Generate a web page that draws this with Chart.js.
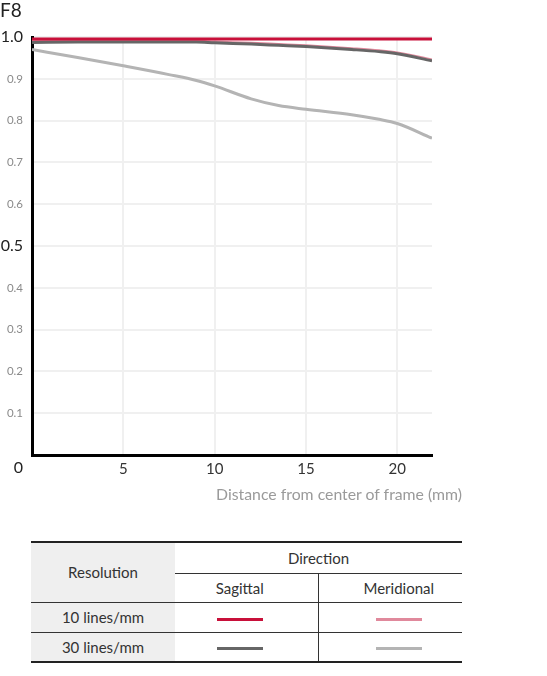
<!DOCTYPE html>
<html>
<head>
<meta charset="utf-8">
<script src="https://cdn.jsdelivr.net/npm/chart.js@4.4.1/dist/chart.umd.min.js"></script>
<style>
  body { margin: 0; background: #fff; font-family: Lato, "Open Sans", sans-serif; }
  #wrap { position: relative; width: 547px; height: 676px; }
  #grafico { position: absolute; left: 0; top: 0; }
  #titulo { position: absolute; left: 0; top: 0; font-size: 19px; color: #222; line-height: 20px; }
  #eixoX { position: absolute; right: 85px; top: 484px; font-size: 15.8px; color: #9a9a9a; }
  table { position: absolute; left: 31px; top: 541px; width: 431px; border-collapse: collapse; table-layout: fixed;
          font-size: 15px; color: #333; border-top: 2px solid #222; border-bottom: 2px solid #222; }
  td { text-align: center; padding: 0; }
  .res { background: #efefef; }
  .sw { display: inline-block; width: 46px; height: 3px; vertical-align: middle; }
</style>
</head>
<body>
<div id="wrap">
  <canvas id="grafico" width="547" height="510"></canvas>
  <div id="titulo">F8</div>
  <div id="eixoX">Distance from center of frame (mm)</div>
  <table>
    <colgroup><col style="width:144px"><col style="width:143px"><col style="width:144px"></colgroup>
    <tr style="height:31px">
      <td class="res" rowspan="2" style="border-bottom:1px solid #333">Resolution</td>
      <td colspan="2" style="border-bottom:1px solid #333">Direction</td>
    </tr>
    <tr style="height:29px; border-bottom:1px solid #333">
      <td style="border-right:1px solid #333; padding-right:13px">Sagittal</td>
      <td style="padding-left:17px">Meridional</td>
    </tr>
    <tr style="height:30px; border-bottom:1px solid #333">
      <td class="res">10 lines/mm</td>
      <td style="border-right:1px solid #333; padding-right:13px"><span class="sw" style="background:#c8103a"></span></td>
      <td style="padding-left:17px"><span class="sw" style="background:#e0899c"></span></td>
    </tr>
    <tr style="height:30px">
      <td class="res">30 lines/mm</td>
      <td style="border-right:1px solid #333; padding-right:13px"><span class="sw" style="background:#666"></span></td>
      <td style="padding-left:17px"><span class="sw" style="background:#b4b4b4"></span></td>
    </tr>
  </table>
</div>
<script>
// posições ao longo do quadro (mm)
const distancias = [0, 2.5, 5, 7.5, 9, 10, 12, 13.5, 15, 17.5, 19, 20, 21.9];

// valores MTF
const sagital10 = [0.995, 0.995, 0.995, 0.995, 0.995, 0.995, 0.995, 0.995, 0.995, 0.995, 0.995, 0.995, 0.995];
const meridional10 = [0.989, 0.990, 0.990, 0.990, 0.990, 0.988, 0.985, 0.982, 0.979, 0.972, 0.967, 0.962, 0.945];
const sagital30 = [0.987, 0.988, 0.988, 0.988, 0.988, 0.986, 0.983, 0.980, 0.977, 0.970, 0.965, 0.960, 0.943];
const meridional30 = [0.970, 0.951, 0.931, 0.910, 0.896, 0.883, 0.852, 0.836, 0.827, 0.814, 0.803, 0.793, 0.758];

const xTicks = [0, 5, 10, 15, 20];

function pontos(valores) {
  return distancias.map((d, i) => ({ x: d, y: valores[i] }));
}

function serie(label, valores, cor, ordem) {
  return {
    label: label,
    data: pontos(valores),
    borderColor: cor,
    borderWidth: 3,
    pointRadius: 0,
    cubicInterpolationMode: 'monotone',
    fill: false,
    order: ordem
  };
}

// ticks destacados no eixo y (0, 0.5 e 1.0)
function destaque(c) {
  if (!c || !c.tick) return -1;
  const v = Math.round(c.tick.value * 10);
  return (v === 0 || v === 5 || v === 10) ? v : -1;
}

const ctx = document.getElementById('grafico').getContext('2d');
const grafico = new Chart(ctx, {
  type: 'line',
  data: {
    datasets: [
      serie('10 lines/mm Sagittal', sagital10, '#c8103a', 1),
      serie('30 lines/mm Sagittal', sagital30, '#666666', 2),
      serie('10 lines/mm Meridional', meridional10, '#e0899c', 3),
      serie('30 lines/mm Meridional', meridional30, '#b4b4b4', 4)
    ]
  },
  options: {
    responsive: false,
    animation: false,
    layout: { padding: { top: 37, right: 115, left: 0, bottom: 0 } },
    plugins: { legend: { display: false }, tooltip: { enabled: false } },
    scales: {
      x: {
        type: 'linear',
        min: 0,
        max: 21.9,
        afterBuildTicks: s => { s.ticks = xTicks.map(v => ({ value: v })); },
        afterFit: s => { s.height = 55; },
        border: { color: '#000', width: 3 },
        grid: { color: '#f0f0f0', lineWidth: 2, drawTicks: false },
        ticks: {
          padding: 5,
          autoSkip: false,
          maxRotation: 0,
          color: '#333',
          font: { family: 'Lato', size: 15 },
          callback: v => (v === 0 ? '' : String(v))
        }
      },
      y: {
        min: 0,
        max: 1,
        afterBuildTicks: s => {
          const t = [];
          for (let i = 0; i <= 10; i++) t.push({ value: i / 10 });
          s.ticks = t;
        },
        afterFit: s => { s.width = 32; },
        border: { color: '#000', width: 3 },
        grid: { color: '#f0f0f0', lineWidth: 2, drawTicks: false },
        ticks: {
          padding: 9,
          autoSkip: false,
          color: c => (destaque(c) >= 0 ? '#222' : '#8a8a8a'),
          font: c => {
            const v = destaque(c);
            if (v === 0) return { family: 'Lato', size: 16, lineHeight: 1.55 };
            if (v > 0) return { family: 'Lato', size: 16 };
            return { family: 'Lato', size: 11.5 };
          },
          callback: v => {
            const n = Math.round(v * 10);
            if (n === 0) return ['', '0'];
            return (n / 10).toFixed(1);
          }
        }
      }
    }
  }
});
</script>
</body>
</html>
